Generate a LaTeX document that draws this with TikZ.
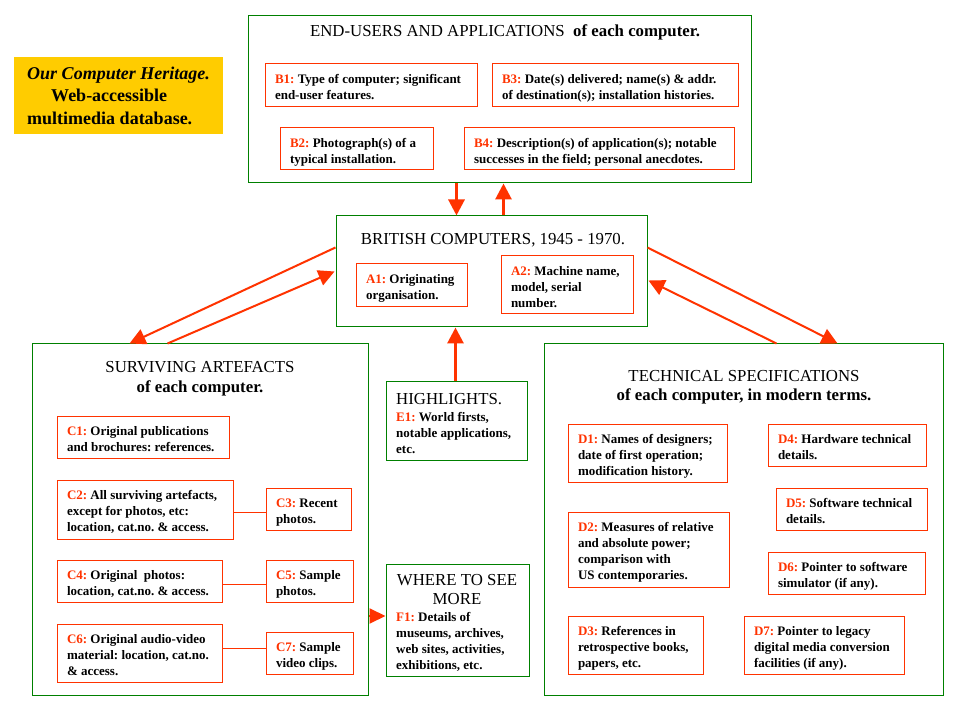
\documentclass[tikz,border=0pt]{standalone}
\usepackage{fontspec}
\setmainfont{Liberation Serif}
\usetikzlibrary{arrows.meta,calc}
\definecolor{red1}{HTML}{FF3300}
\definecolor{grn}{HTML}{008000}
\definecolor{yel}{HTML}{FFCC00}
\newcommand\lb[1]{\textcolor{red1}{#1}}
\newcommand\mkbox[7]{%
 \pgfmathsetmacro\bw{#5-(#3)}%
 \pgfmathsetmacro\bh{#6-(#4)}%
 \pgfmathsetmacro\tw{#5-(#3)-20}%
 \pgfmathsetmacro\cx{(#3+#5)/2}%
 \pgfmathsetmacro\cy{(#4+#6)/2}%
 \node[#2, minimum width=\bw pt, minimum height=\bh pt] (#1) at (\cx,\cy)
   {\raisebox{-3pt}[\height][\depth]{\makebox[\tw pt][l]{\begin{tabular}{@{}l@{}}#7\end{tabular}}}};}
\begin{document}
\frenchspacing
\begin{tikzpicture}[x=1pt,y=-1pt,
  rbox/.style={draw=red1, line width=1pt, inner sep=0pt,
    font=\bfseries\fontsize{13}{16}\selectfont},
  gbox/.style={draw=grn, line width=1pt, inner sep=0pt},
  ttl/.style={font=\fontsize{16.8}{19.5}\selectfont, align=center, inner sep=0pt},
  body/.style={font=\bfseries\fontsize{13}{16}\selectfont, inner sep=0pt},
  arr/.style={draw=red1, line width=3pt, -{Triangle[length=16pt,width=16pt]}},
  darr/.style={draw=red1, line width=2pt, -{Triangle[length=16pt,width=16pt]}},
  cline/.style={draw=red1, line width=1pt}]
\useasboundingbox (0,0) rectangle (959,719);
\fill[white] (0,0) rectangle (959,719);

% yellow title box
\node[fill=yel, inner sep=0pt, minimum width=209pt, minimum height=77pt, align=left,
  font=\bfseries\fontsize{18}{22.5}\selectfont] (Y) at (118.5,95.5)
  {\textit{Our Computer Heritage.}\\\hspace*{24pt}Web-accessible\\multimedia database.};

% B: end users
\mkbox{B}{gbox}{248}{16}{751}{183}{}
\node[ttl] (Bt) at (505,32.5) {END-USERS AND APPLICATIONS\ \ \textbf{of each computer.}};
\mkbox{B1}{rbox}{265}{64}{477}{107}{\lb{B1:} Type of computer; significant\\end-user features.}
\mkbox{B3}{rbox}{492}{64}{738}{107}{\lb{B3:} Date(s) delivered; name(s) \& addr.\\of destination(s); installation histories.}
\mkbox{B2}{rbox}{280}{128}{433}{170}{\lb{B2:} Photograph(s) of a\\typical installation.}
\mkbox{B4}{rbox}{464}{128}{734}{170}{\lb{B4:} Description(s) of application(s); notable\\successes in the field; personal anecdotes.}

% A: British computers
\mkbox{A}{gbox}{336}{216}{647}{327}{}
\node[ttl] (At) at (493,240.5) {BRITISH COMPUTERS, 1945 - 1970.};
\mkbox{A1}{rbox}{356}{264}{467}{307}{\lb{A1:} Originating\\organisation.}
\mkbox{A2}{rbox}{501}{256}{633}{314}{\lb{A2:} Machine name,\\model, serial\\number.}

% C: surviving artefacts
\mkbox{C}{gbox}{32}{344}{368}{695}{}
\node[ttl] (Ct) at (200,378.5) {SURVIVING ARTEFACTS\\\textbf{of each computer.}};
\mkbox{C1}{rbox}{57}{416}{229}{458}{\lb{C1:} Original publications\\and brochures: references.}
\mkbox{C2}{rbox}{57}{480}{233}{539}{\lb{C2:} All surviving artefacts,\\except for photos, etc:\\location, cat.no. \& access.}
\mkbox{C3}{rbox}{266}{488}{351}{530}{\lb{C3:} Recent\\photos.}
\mkbox{C4}{rbox}{57}{560}{222}{602}{\lb{C4:} Original\ \ photos:\\location, cat.no. \& access.}
\mkbox{C5}{rbox}{266}{560}{353}{602}{\lb{C5:} Sample\\photos.}
\mkbox{C6}{rbox}{57}{624}{222}{682}{\lb{C6:} Original audio-video\\material: location, cat.no.\\\& access.}
\mkbox{C7}{rbox}{266}{632}{353}{674}{\lb{C7:} Sample\\video clips.}

% D: technical specifications
\mkbox{D}{gbox}{544}{344}{943}{695}{}
\node[ttl] (Dt) at (744,387) {TECHNICAL SPECIFICATIONS\\\textbf{of each computer, in modern terms.}};
\mkbox{D1}{rbox}{568}{424}{727}{482}{\lb{D1:} Names of designers;\\date of first operation;\\modification history.}
\mkbox{D4}{rbox}{768}{424}{926}{466}{\lb{D4:} Hardware technical\\details.}
\mkbox{D5}{rbox}{776}{488}{927}{530}{\lb{D5:} Software technical\\details.}
\mkbox{D2}{rbox}{568}{512}{729}{587}{\lb{D2:} Measures of relative\\and absolute power;\\comparison with\\US contemporaries.}
\mkbox{D6}{rbox}{768}{552}{925}{594}{\lb{D6:} Pointer to software\\simulator (if any).}
\mkbox{D3}{rbox}{568}{616}{703}{674}{\lb{D3:} References in\\retrospective books,\\papers, etc.}
\mkbox{D7}{rbox}{744}{616}{904}{674}{\lb{D7:} Pointer to legacy\\digital media conversion\\facilities (if any).}

% E: highlights
\mkbox{E}{gbox}{386}{382}{527}{460}{}
\node[ttl, anchor=west] (Et) at (396,399) {HIGHLIGHTS.};
\node[body, anchor=base west] (Eb) at (396,421)
  {\begin{tabular}[t]{@{}l@{}}\lb{E1:} World firsts,\\notable applications,\\etc.\end{tabular}};

% F: where to see more
\mkbox{F}{gbox}{386}{564}{529}{676}{}
\node[ttl] (Ft) at (457,589.5) {WHERE TO SEE\\MORE};
\node[body, anchor=base west] (Fb) at (396,621)
  {\begin{tabular}[t]{@{}l@{}}\lb{F1:} Details of\\museums, archives,\\web sites, activities,\\exhibitions, etc.\end{tabular}};

% thin connectors inside C
\coordinate (c23) at ($(C2.east)+(0,2.5)$);
\draw[cline] (c23) -- (c23 -| C3.west);
\coordinate (c45) at ($(C4.east)+(0,3)$);
\draw[cline] (c45) -- (c45 -| C5.west);
\coordinate (c67) at ($(C6.east)+(0,-5)$);
\draw[cline] (c67) -- (c67 -| C7.west);

% vertical arrows
\draw[arr] ($(B.south west)+(209,0)$) -- ($(A.north west)+(121,0)$);
\draw[arr] ($(A.north west)+(168,0)$) -- ($(B.south west)+(256,0)$);
\draw[arr] ($(E.north west)+(70,0)$) -- ($(A.south west)+(120,0)$);

% diagonal arrows
\draw[darr] ($(A.north west)+(0,32)$) -- ($(C.north west)+(98,0)$);
\draw[darr] ($(C.north west)+(136,0)$) -- ($(A.north west)+(-1,56)$);
\draw[darr] ($(A.north east)+(0,32)$) -- ($(D.north west)+(294,0)$);
\draw[darr] ($(D.north west)+(233,0)$) -- ($(A.north east)+(1,65)$);

% arrow into F
\coordinate (fa) at ($(F.west)+(0,-4)$);
\draw[draw=red1, line width=2pt, -{Triangle[length=16pt,width=15pt]}] (C.east |- fa) -- (fa);
\end{tikzpicture}
\end{document}
